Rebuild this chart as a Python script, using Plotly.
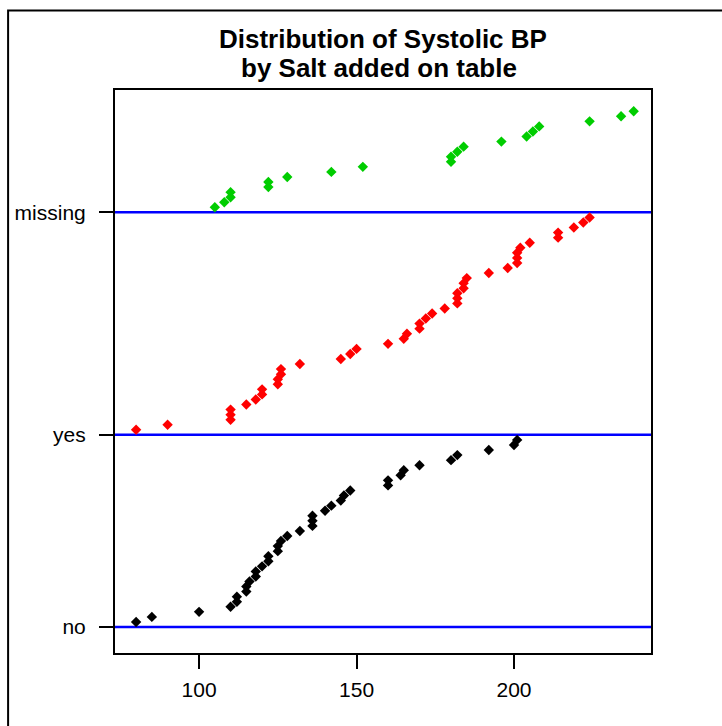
import plotly.graph_objects as go

# Systolic BP values (sorted within each group)
bp_no = [80, 85, 100, 110, 112, 112, 115, 115, 116, 118, 118, 120, 122, 122, 125, 125,
         126, 128, 132, 136, 136, 136, 140, 142, 145, 146, 148, 160, 160, 164, 165, 170,
         180, 182, 192, 200, 201]
bp_yes = [80, 90, 110, 110, 110, 115, 118, 120, 120, 125, 125, 126, 126, 132, 145, 148,
          150, 160, 165, 166, 170, 170, 172, 174, 178, 182, 182, 182, 184, 184, 185, 192,
          198, 201, 201, 201, 202, 205, 214, 214, 219, 222, 224]
bp_missing = [105, 108, 110, 110, 122, 122, 128, 142, 152, 180, 180, 182, 184, 196, 204,
              206, 208, 224, 234, 238]

group_labels = ["no", "yes", "missing"]
group_colors = ["black", "#FF0000", "#00CD00"]
groups = [bp_no, bp_yes, bp_missing]

x_ticks = [100, 150, 200]
title_lines = ["Distribution of Systolic BP", "by Salt added on table"]

W, H = 722, 726
ML, MR, MT, MB = 114.5, 71, 89.5, 73
PW, PH = W - ML - MR, H - MT - MB

fig = go.Figure()

baselines = []
base = 0
for vals, col, lab in zip(groups, group_colors, group_labels):
    baselines.append(base)
    ys = [base + i + 1 for i in range(len(vals))]
    fig.add_trace(go.Scatter(
        x=vals, y=ys, mode="markers", name=lab,
        marker=dict(symbol="diamond", size=8, color=col, line=dict(width=0)),
        showlegend=False, cliponaxis=False,
    ))
    base = base + len(vals) + 1

for b in baselines:
    fig.add_shape(type="line", xref="paper", x0=0, x1=1, yref="y", y0=b, y1=b,
                  line=dict(color="#0000FF", width=2.5), layer="below")

# outer figure frame (left and top edges visible)
fig.add_shape(type="rect", xref="paper", yref="paper",
              x0=(7.5 - ML) / PW, x1=1.3, y0=-0.3, y1=1 + (MT - 10) / PH,
              line=dict(color="black", width=2), fillcolor="rgba(0,0,0,0)")

font_family = "Liberation Sans, Arial, Helvetica, sans-serif"

for txt, yc, xoff in zip(title_lines, [38, 67], [0, -4]):
    fig.add_annotation(text="<b>" + txt + "</b>",
                       xref="paper", x=0.5 + xoff / PW, xanchor="center",
                       yref="paper", y=1 + (MT - yc) / PH, yanchor="middle",
                       showarrow=False,
                       font=dict(size=26, family=font_family, color="black"))

fig.update_layout(
    width=W, height=H,
    margin=dict(l=ML, r=MR, t=MT, b=MB),
    paper_bgcolor="white", plot_bgcolor="white",
    font=dict(family=font_family, color="black", size=21),
    xaxis=dict(range=[73.3, 243.5], tickvals=x_ticks, ticktext=[str(t) for t in x_ticks],
               showgrid=False, zeroline=False, showline=True, linecolor="black",
               linewidth=2, mirror=True, ticks="outside", ticklen=14, tickwidth=2,
               tickcolor="black", tickfont=dict(size=21), ticklabelstandoff=3),
    yaxis=dict(range=[-5.14, 106.2], tickvals=baselines, ticktext=group_labels,
               showgrid=False, zeroline=False, showline=True, linecolor="black",
               linewidth=2, mirror=True, ticks="outside", ticklen=14, tickwidth=2,
               tickcolor="black", tickfont=dict(size=21), ticklabelstandoff=9),
)

fig.write_html("out.html",
               config={"displayModeBar": False},
               post_script="document.body.style.margin='0';document.body.style.overflow='hidden';")
